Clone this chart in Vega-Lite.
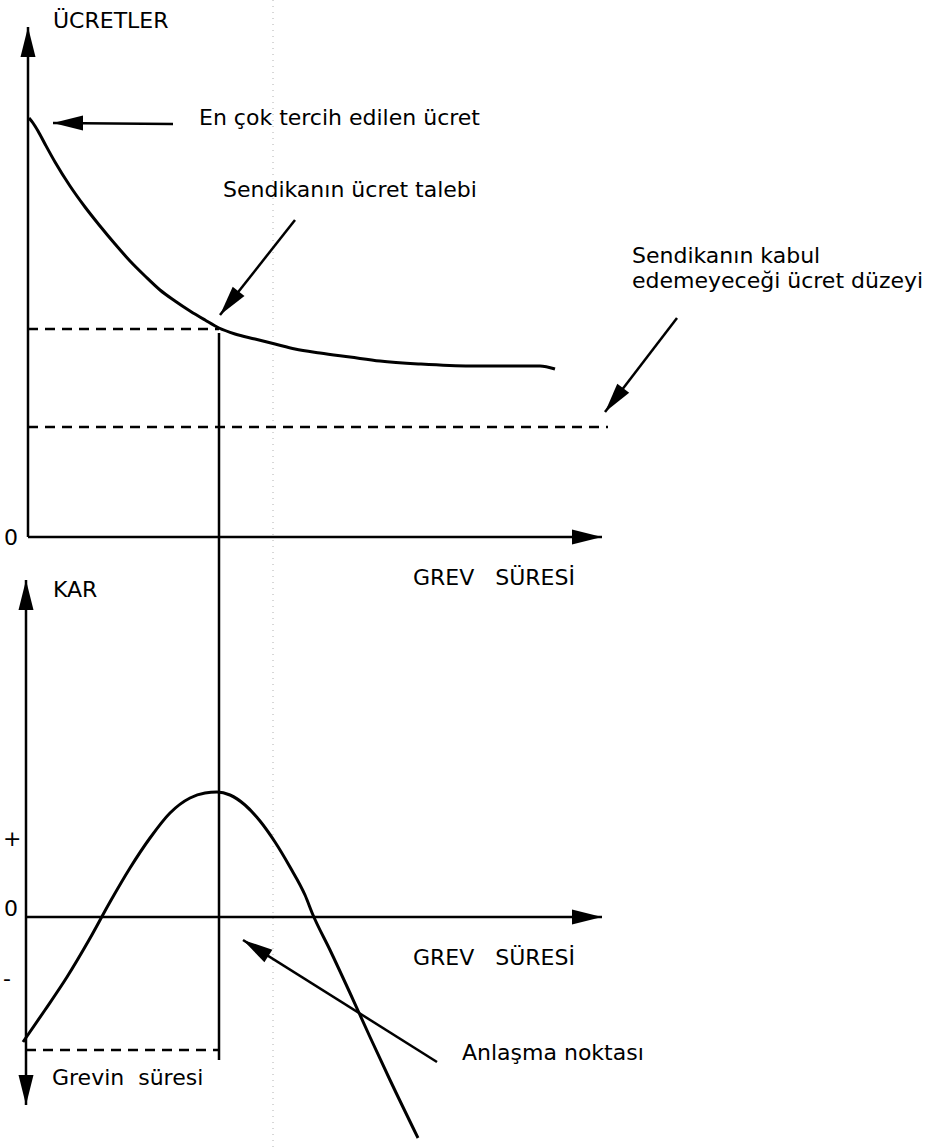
{
  "$schema": "https://vega.github.io/schema/vega-lite/v6.json",
  "width": 945,
  "height": 1148,
  "padding": 0,
  "autosize": {"type": "none"},
  "background": "white",
  "config": {"view": {"stroke": null}},
  "datasets": {
    "scanline": [
      {"x": 273, "y": 0, "y2": 1148}
    ],
    "curves": [
      {"curve": "ücret", "x": 29, "y": 118}, {"curve": "ücret", "x": 33, "y": 123},
      {"curve": "ücret", "x": 38, "y": 131}, {"curve": "ücret", "x": 45, "y": 144},
      {"curve": "ücret", "x": 55, "y": 162}, {"curve": "ücret", "x": 70, "y": 186},
      {"curve": "ücret", "x": 85, "y": 207}, {"curve": "ücret", "x": 100, "y": 226},
      {"curve": "ücret", "x": 115, "y": 244}, {"curve": "ücret", "x": 130, "y": 261},
      {"curve": "ücret", "x": 145, "y": 276}, {"curve": "ücret", "x": 160, "y": 290},
      {"curve": "ücret", "x": 175, "y": 301}, {"curve": "ücret", "x": 190, "y": 311},
      {"curve": "ücret", "x": 205, "y": 320}, {"curve": "ücret", "x": 219, "y": 328},
      {"curve": "ücret", "x": 235, "y": 334}, {"curve": "ücret", "x": 255, "y": 339},
      {"curve": "ücret", "x": 275, "y": 344}, {"curve": "ücret", "x": 295, "y": 349},
      {"curve": "ücret", "x": 320, "y": 353}, {"curve": "ücret", "x": 350, "y": 357},
      {"curve": "ücret", "x": 380, "y": 361}, {"curve": "ücret", "x": 420, "y": 364},
      {"curve": "ücret", "x": 470, "y": 366}, {"curve": "ücret", "x": 520, "y": 366},
      {"curve": "ücret", "x": 540, "y": 366}, {"curve": "ücret", "x": 555, "y": 369},
      {"curve": "kar", "x": 23, "y": 1042}, {"curve": "kar", "x": 45, "y": 1010},
      {"curve": "kar", "x": 67, "y": 977}, {"curve": "kar", "x": 89, "y": 940},
      {"curve": "kar", "x": 110, "y": 902}, {"curve": "kar", "x": 130, "y": 868},
      {"curve": "kar", "x": 150, "y": 838}, {"curve": "kar", "x": 170, "y": 813},
      {"curve": "kar", "x": 190, "y": 798}, {"curve": "kar", "x": 205, "y": 793},
      {"curve": "kar", "x": 217, "y": 792}, {"curve": "kar", "x": 230, "y": 795},
      {"curve": "kar", "x": 245, "y": 805}, {"curve": "kar", "x": 260, "y": 821},
      {"curve": "kar", "x": 275, "y": 842}, {"curve": "kar", "x": 290, "y": 867},
      {"curve": "kar", "x": 305, "y": 895}, {"curve": "kar", "x": 313, "y": 915},
      {"curve": "kar", "x": 330, "y": 950}, {"curve": "kar", "x": 350, "y": 993},
      {"curve": "kar", "x": 370, "y": 1037}, {"curve": "kar", "x": 390, "y": 1080},
      {"curve": "kar", "x": 418, "y": 1138}
    ],
    "solid": [
      {"part": "ücret ekseni", "x": 28, "y": 27, "x2": 28, "y2": 537},
      {"part": "süre ekseni (üst)", "x": 28, "y": 537, "x2": 602, "y2": 537},
      {"part": "grevin süresi", "x": 219, "y": 333, "x2": 219, "y2": 1060},
      {"part": "kar ekseni", "x": 26, "y": 580, "x2": 26, "y2": 1105},
      {"part": "süre ekseni (alt)", "x": 26, "y": 917, "x2": 602, "y2": 917},
      {"part": "en çok tercih edilen", "x": 173, "y": 124, "x2": 53, "y2": 123},
      {"part": "ücret talebi", "x": 295, "y": 220, "x2": 220, "y2": 315},
      {"part": "kabul edilemeyen", "x": 677, "y": 318, "x2": 605, "y2": 412},
      {"part": "anlaşma", "x": 437, "y": 1062, "x2": 243, "y2": 940}
    ],
    "dashed": [
      {"part": "talep düzeyi", "x": 28, "y": 329, "x2": 219, "y2": 329},
      {"part": "kabul edilemeyen düzey", "x": 28, "y": 427, "x2": 608, "y2": 427},
      {"part": "grev süresi", "x": 26, "y": 1050, "x2": 219, "y2": 1050}
    ],
    "heads": [
      {"x": 28, "y": 27, "dir": 0},
      {"x": 602, "y": 537, "dir": 90},
      {"x": 26, "y": 580, "dir": 0},
      {"x": 26, "y": 1105, "dir": 180},
      {"x": 602, "y": 917, "dir": 90},
      {"x": 53, "y": 123, "dir": 270},
      {"x": 220, "y": 315, "dir": 218.3},
      {"x": 605, "y": 412, "dir": 217.5},
      {"x": 243, "y": 940, "dir": 302.2}
    ],
    "labels": [
      {"label": "ÜCRETLER", "x": 53, "y": 28},
      {"label": "En çok tercih edilen ücret", "x": 199, "y": 125},
      {"label": "Sendikanın ücret talebi", "x": 223, "y": 197},
      {"label": "Sendikanın kabul", "x": 632, "y": 263},
      {"label": "edemeyeceği ücret düzeyi", "x": 632, "y": 288},
      {"label": "0", "x": 4, "y": 545},
      {"label": "GREV\u00a0\u00a0\u00a0SÜRESİ", "x": 413, "y": 585},
      {"label": "KAR", "x": 53, "y": 597},
      {"label": "+", "x": 3, "y": 846},
      {"label": "0", "x": 4, "y": 916},
      {"label": "-", "x": 3, "y": 986},
      {"label": "GREV\u00a0\u00a0\u00a0SÜRESİ", "x": 413, "y": 965},
      {"label": "Anlaşma noktası", "x": 462, "y": 1060},
      {"label": "Grevin\u00a0 süresi", "x": 52, "y": 1085}
    ]
  },
  "encoding": {
    "x": {"field": "x", "type": "quantitative", "scale": {"domain": [0, 945]}, "axis": null},
    "y": {"field": "y", "type": "quantitative", "scale": {"domain": [0, 1148], "reverse": true}, "axis": null}
  },
  "layer": [
    {
      "data": {"name": "scanline"},
      "mark": {"type": "rule", "color": "#b0b0b0", "strokeWidth": 1, "strokeDash": [1, 5]},
      "encoding": {"y2": {"field": "y2"}}
    },
    {
      "data": {"name": "dashed"},
      "mark": {"type": "rule", "color": "black", "strokeWidth": 2.5, "strokeDash": [10, 7]},
      "encoding": {"x2": {"field": "x2"}, "y2": {"field": "y2"}}
    },
    {
      "data": {"name": "solid"},
      "mark": {"type": "rule", "color": "black", "strokeWidth": 2.5},
      "encoding": {"x2": {"field": "x2"}, "y2": {"field": "y2"}}
    },
    {
      "data": {"name": "curves"},
      "mark": {"type": "line", "color": "black", "strokeWidth": 3, "interpolate": "monotone"},
      "encoding": {"detail": {"field": "curve"}}
    },
    {
      "data": {"name": "heads"},
      "mark": {"type": "point", "shape": "M0,0L0.5,2L-0.5,2Z", "filled": true, "color": "black", "opacity": 1, "size": 900, "strokeWidth": 0},
      "encoding": {"angle": {"field": "dir", "type": "quantitative", "scale": null}}
    },
    {
      "data": {"name": "labels"},
      "mark": {"type": "text", "align": "left", "baseline": "alphabetic", "font": "DejaVu Sans", "fontSize": 22, "color": "black"},
      "encoding": {"text": {"field": "label"}}
    }
  ]
}
